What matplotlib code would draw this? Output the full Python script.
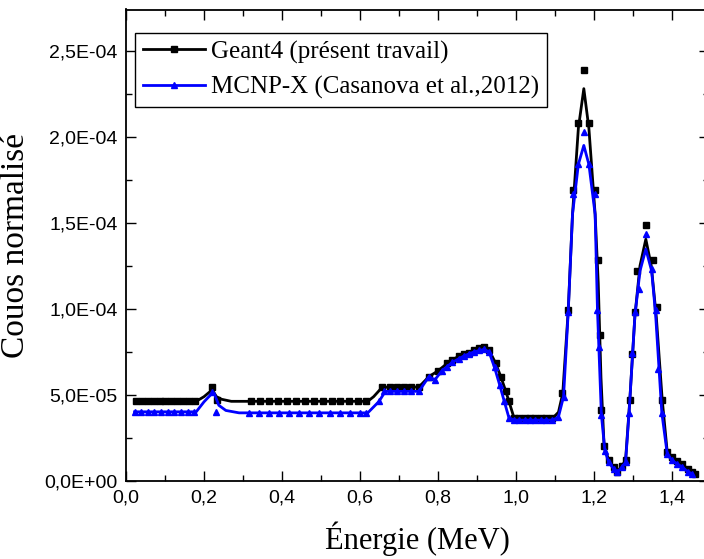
import numpy as np
import matplotlib
matplotlib.use("Agg")
import matplotlib.pyplot as plt
from matplotlib.lines import Line2D
from matplotlib.ticker import MultipleLocator, FuncFormatter

# Geant4 (présent travail) - markers, counts in units of 1e-5
g4_e = [0.026, 0.041, 0.056, 0.071, 0.086, 0.101, 0.116, 0.131, 0.146, 0.161, 0.176,
        0.221, 0.233,
        0.320, 0.343, 0.366, 0.389, 0.412, 0.435, 0.458, 0.481, 0.504, 0.527, 0.550, 0.573, 0.596, 0.615,
        0.657, 0.676, 0.696, 0.713, 0.730, 0.751, 0.777, 0.800, 0.824, 0.837, 0.854, 0.867, 0.879,
        0.892, 0.905, 0.918, 0.931, 0.948, 0.961, 0.974, 0.982, 0.995,
        1.008, 1.022, 1.036, 1.050, 1.064, 1.078, 1.092,
        1.119, 1.134, 1.145, 1.160, 1.174, 1.187, 1.203, 1.211, 1.216, 1.219, 1.226, 1.238,
        1.251, 1.260, 1.271, 1.281, 1.292, 1.298, 1.305, 1.311, 1.333, 1.351, 1.362, 1.375,
        1.388, 1.400, 1.413, 1.427, 1.440, 1.452, 1.458]
g4_c = [4.63, 4.63, 4.63, 4.63, 4.63, 4.63, 4.63, 4.63, 4.63, 4.63, 4.63,
        5.46, 4.73,
        4.63, 4.63, 4.63, 4.63, 4.63, 4.63, 4.63, 4.63, 4.63, 4.63, 4.63, 4.63, 4.63, 4.63,
        5.46, 5.46, 5.46, 5.46, 5.46, 5.46, 6.07, 6.40, 6.84, 7.04, 7.27, 7.38, 7.46,
        7.61, 7.71, 7.77, 7.61, 6.84, 6.07, 5.21, 4.63, 3.67,
        3.67, 3.67, 3.67, 3.67, 3.67, 3.67, 3.67,
        5.12, 9.92, 16.9, 20.8, 23.9, 20.8, 16.9, 12.84, 8.48, 4.15, 2.04, 1.20,
        0.80, 0.55, 0.85, 1.20, 4.73, 7.40, 9.80, 12.23, 14.86, 12.86, 10.11, 4.73,
        1.66, 1.40, 1.17, 0.98, 0.69, 0.50, 0.40]

# MCNP-X (Casanova et al., 2012) - markers
mc_e = [0.022, 0.039, 0.056, 0.073, 0.090, 0.107, 0.124, 0.141, 0.158, 0.175,
        0.221, 0.232,
        0.315, 0.340, 0.366, 0.392, 0.418, 0.444, 0.470, 0.496, 0.522, 0.548, 0.574, 0.600, 0.615,
        0.649, 0.662, 0.676, 0.696, 0.713, 0.730, 0.751, 0.777, 0.792, 0.810, 0.824, 0.837,
        0.854, 0.867, 0.879, 0.892, 0.905, 0.918, 0.931, 0.945, 0.958, 0.970, 0.982, 0.995,
        1.008, 1.022, 1.036, 1.050, 1.064, 1.078, 1.092,
        1.109, 1.122, 1.134, 1.145, 1.160, 1.174, 1.187, 1.203, 1.209, 1.213, 1.219, 1.228,
        1.238, 1.251, 1.260, 1.271, 1.281, 1.290, 1.298, 1.305, 1.315, 1.333, 1.348, 1.358,
        1.365, 1.374, 1.388, 1.400, 1.413, 1.427, 1.440, 1.452]
mc_c = [4.02, 4.02, 4.02, 4.02, 4.02, 4.02, 4.02, 4.02, 4.02, 4.02,
        5.20, 4.00,
        3.96, 3.96, 3.96, 3.96, 3.96, 3.96, 3.96, 3.96, 3.96, 3.96, 3.96, 3.96, 3.96,
        4.63, 5.21, 5.21, 5.21, 5.21, 5.21, 5.21, 6.07, 5.88, 6.40, 6.60, 6.90,
        7.10, 7.27, 7.38, 7.50, 7.60, 7.65, 7.50, 6.60, 5.60, 4.63, 3.67, 3.54,
        3.54, 3.54, 3.54, 3.54, 3.54, 3.54, 3.54,
        3.73, 4.90, 9.82, 16.7, 18.4, 20.3, 18.4, 16.7, 9.92, 7.80, 3.86, 1.75,
        1.08, 0.69, 0.50, 0.79, 1.08, 3.96, 7.42, 9.82, 11.17, 14.38, 12.32, 9.92,
        6.50, 3.96, 1.56, 1.20, 1.00, 0.80, 0.55, 0.40]

# smoothed curves (Origin spline)
g4_line_e = [0.026, 0.180, 0.200, 0.221, 0.232, 0.245, 0.270, 0.620, 0.635, 0.655, 0.670,
             0.751, 0.777, 0.800, 0.824, 0.854, 0.879, 0.905, 0.918, 0.931, 0.948, 0.961,
             0.974, 0.982, 0.995, 1.095, 1.109, 1.120, 1.134, 1.145, 1.160, 1.174, 1.187,
             1.203, 1.211, 1.218, 1.226, 1.238, 1.251, 1.260, 1.271, 1.281, 1.292, 1.305,
             1.318, 1.333, 1.347, 1.360, 1.375, 1.388, 1.400, 1.413, 1.427, 1.440, 1.458]
g4_line_c = [4.63, 4.63, 4.90, 5.30, 4.90, 4.75, 4.63, 4.63, 4.90, 5.40, 5.46,
             5.46, 6.07, 6.40, 6.84, 7.27, 7.46, 7.71, 7.77, 7.61, 6.84, 6.07,
             5.21, 4.63, 3.67, 3.67, 4.00, 5.10, 9.90, 15.5, 20.5, 22.8, 20.5,
             15.5, 11.5, 6.00, 2.04, 1.20, 0.80, 0.55, 0.85, 1.20, 4.73, 9.60,
             12.5, 14.05, 12.5, 9.50, 4.73, 1.66, 1.40, 1.17, 0.98, 0.69, 0.40]

mc_line_e = [0.022, 0.180, 0.200, 0.221, 0.226, 0.238, 0.256, 0.290, 0.620, 0.649, 0.665,
             0.751, 0.777, 0.792, 0.810, 0.837, 0.867, 0.892, 0.918, 0.931, 0.945, 0.958,
             0.970, 0.982, 0.995, 1.095, 1.109, 1.122, 1.134, 1.145, 1.160, 1.174, 1.187,
             1.203, 1.209, 1.219, 1.228, 1.238, 1.251, 1.260, 1.271, 1.281, 1.290, 1.305,
             1.318, 1.333, 1.348, 1.358, 1.374, 1.388, 1.400, 1.413, 1.427, 1.440, 1.452]
mc_line_c = [4.02, 4.02, 4.60, 5.10, 5.10, 4.40, 4.10, 3.96, 3.96, 4.63, 5.21,
             5.21, 6.07, 5.88, 6.40, 6.90, 7.27, 7.50, 7.65, 7.50, 6.60, 5.60,
             4.63, 3.67, 3.54, 3.54, 3.73, 4.90, 9.82, 15.5, 18.4, 19.5, 18.4,
             15.5, 9.92, 3.86, 1.75, 1.08, 0.69, 0.50, 0.79, 1.08, 3.96, 9.60,
             12.2, 13.48, 12.2, 9.70, 3.96, 1.56, 1.20, 1.00, 0.80, 0.55, 0.40]

scale = 1e-5
serif = "Liberation Serif"
sans = "Liberation Sans"

fig = plt.figure(figsize=(7.04, 5.59), dpi=100)
ax = fig.add_axes([126 / 704, 78 / 559, 583 / 704, 471.5 / 559])

ax.plot(g4_line_e, np.array(g4_line_c) * scale, color="black", lw=2.0, zorder=2)
ax.plot(g4_e, np.array(g4_c) * scale, ls="none", marker="s", ms=4.0, color="black", zorder=3)
ax.plot(mc_line_e, np.array(mc_line_c) * scale, color="#0000ff", lw=2.0, zorder=4)
ax.plot(mc_e, np.array(mc_c) * scale, ls="none", marker="^", ms=4.8, color="#0000ff", zorder=5)

ax.set_xlim(0, 1.495)
ax.set_ylim(0, 2.74e-4)

ax.xaxis.set_major_locator(MultipleLocator(0.2))
ax.xaxis.set_minor_locator(MultipleLocator(0.1))
ax.yaxis.set_major_locator(MultipleLocator(5e-5))
ax.yaxis.set_minor_locator(MultipleLocator(2.5e-5))
ax.xaxis.set_major_formatter(FuncFormatter(lambda v, p: f"{v:.1f}".replace(".", ",")))
ax.yaxis.set_major_formatter(FuncFormatter(lambda v, p: f"{v:.1E}".replace(".", ",")))

ax.tick_params(which="both", direction="in", top=True, right=True, width=1.0,
               labelsize=14, pad=6)
ax.tick_params(which="major", length=7)
ax.tick_params(which="minor", length=4)
for lab in ax.get_xticklabels() + ax.get_yticklabels():
    lab.set_fontfamily(sans)
for sp in ax.spines.values():
    sp.set_linewidth(1.3)

ax.set_xlabel("Énergie (MeV)", fontsize=22, family=serif, labelpad=11)
ax.set_ylabel("Couos normalisé", fontsize=24, family=serif, labelpad=10)

handles = [
    Line2D([], [], color="black", lw=2.0, marker="s", ms=4.0),
    Line2D([], [], color="#0000ff", lw=2.0, marker="^", ms=4.8),
]
leg = ax.legend(handles, ["Geant4 (présent travail)", "MCNP-X (Casanova et al.,2012)"],
                loc="upper left", bbox_to_anchor=(0.0155, 0.95), borderaxespad=0,
                prop={"family": serif, "size": 18}, numpoints=1, handlelength=2.5,
                handletextpad=0.25, labelspacing=0.5, borderpad=0.3,
                fancybox=False, framealpha=1, edgecolor="black")
leg.get_frame().set_linewidth(1.0)

fig.savefig("out.png", dpi=100)
